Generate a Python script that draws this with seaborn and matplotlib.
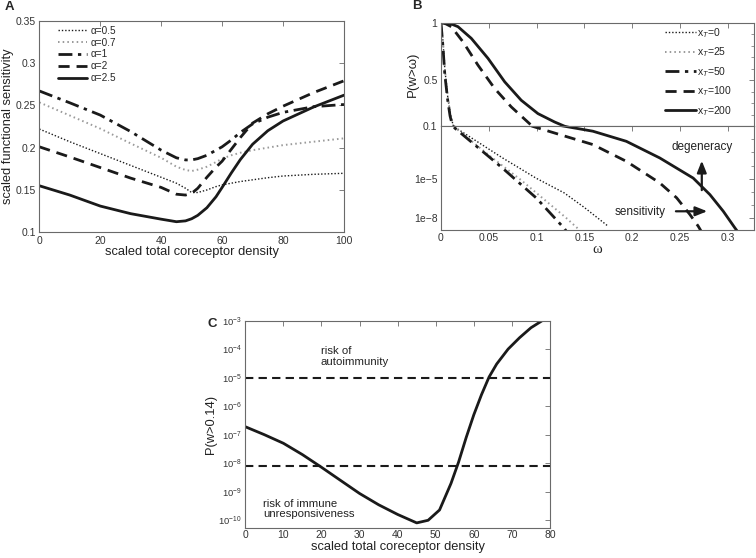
import numpy as np
import pandas as pd
import matplotlib
matplotlib.use("Agg")
import matplotlib.pyplot as plt
import matplotlib.ticker as mticker
import seaborn as sns

sns.set_style("white")
plt.rcParams['font.family'] = ['Liberation Sans', 'DejaVu Sans']
plt.rcParams['mathtext.fontset'] = 'custom'
plt.rcParams['mathtext.rm'] = 'Liberation Sans'
plt.rcParams['mathtext.it'] = 'Liberation Sans:italic'

# ---- panel A: functional sensitivity vs coreceptor density
xa = [0, 10, 20, 30, 40, 45, 48, 50, 52, 55, 58, 60, 63, 66, 70, 75, 80, 90, 100]
sens_a05 = [0.222, 0.207, 0.193, 0.179, 0.165, 0.158, 0.152, 0.147, 0.147, 0.150, 0.154, 0.156,
            0.158, 0.160, 0.162, 0.1645, 0.1665, 0.1685, 0.1697]
sens_a07 = [0.2535, 0.238, 0.2225, 0.205, 0.188, 0.1775, 0.1736, 0.1724, 0.174, 0.1775, 0.183, 0.187,
            0.191, 0.194, 0.197, 0.200, 0.203, 0.207, 0.211]
sens_a1 = [0.267, 0.253, 0.2385, 0.219, 0.197, 0.188, 0.1855, 0.1855, 0.187, 0.191, 0.197, 0.201,
           0.209, 0.218, 0.228, 0.236, 0.2417, 0.2484, 0.251]
sens_a2 = [0.201, 0.189, 0.1765, 0.164, 0.153, 0.145, 0.144, 0.146, 0.152, 0.165, 0.177, 0.184,
           0.198, 0.212, 0.229, 0.240, 0.249, 0.265, 0.279]
sens_a25 = [0.155, 0.144, 0.131, 0.122, 0.1155, 0.1125, 0.1135, 0.116, 0.120, 0.129, 0.142, 0.153,
            0.170, 0.186, 0.204, 0.220, 0.2315, 0.248, 0.262]
alpha_labels = ['α=0.5', 'α=0.7', 'α=1', 'α=2', 'α=2.5']

# ---- panel B: tail distribution P(w > omega)
om_x0 = [0, 0.002, 0.004, 0.007, 0.01, 0.013, 0.0645, 0.0994, 0.129, 0.15, 0.175]
p_x0 = [1.0, 0.85, 0.6, 0.36, 0.2, 0.1, 3.8e-4, 1.1e-5, 8.1e-7, 6.3e-8, 2.3e-9]
om_x25 = [0, 0.002, 0.004, 0.007, 0.01, 0.013, 0.05, 0.0837, 0.131, 0.143, 0.146]
p_x25 = [1.0, 0.85, 0.6, 0.36, 0.2, 0.1, 6.3e-4, 7.9e-6, 1e-8, 1.6e-9, 8e-10]
om_x50 = [0, 0.002, 0.004, 0.007, 0.0095, 0.0122, 0.04, 0.0645, 0.1, 0.129, 0.132]
p_x50 = [1.0, 0.8, 0.55, 0.33, 0.19, 0.1, 2e-3, 6.3e-5, 3.2e-7, 1.6e-9, 8e-10]
om_x100 = [0, 0.005, 0.0108, 0.023, 0.0387, 0.0562, 0.0736, 0.0945, 0.0957, 0.1245, 0.159,
           0.194, 0.229, 0.2467, 0.2606, 0.2693, 0.273]
p_x100 = [1.0, 0.99, 0.965, 0.834, 0.631, 0.428, 0.268, 0.109, 0.1, 0.023, 4e-3,
          2.1e-4, 4.7e-6, 3.4e-7, 1.8e-8, 2.3e-9, 8e-10]
om_x200 = [0, 0.0073, 0.0178, 0.0317, 0.0492, 0.0667, 0.084, 0.1015, 0.119, 0.1295, 0.159,
           0.194, 0.229, 0.264, 0.2815, 0.2955, 0.3077, 0.311]
p_x200 = [1.0, 1.0, 0.965, 0.864, 0.69, 0.486, 0.326, 0.21, 0.137, 0.1, 4.2e-2,
          7.1e-3, 3.8e-4, 1.1e-5, 6e-7, 3.2e-8, 1.7e-9, 8e-10]
xt_labels = ['x$_T$=0', 'x$_T$=25', 'x$_T$=50', 'x$_T$=100', 'x$_T$=200']

# ---- panel C: P(w > 0.14) vs coreceptor density
xc = [0, 5, 10, 15, 20, 25, 30, 35, 40, 45, 48, 51, 54, 56, 58, 60, 62, 64, 66, 69, 72, 75, 78]
p_014 = [1.9e-7, 1e-7, 5e-8, 2e-8, 7.2e-9, 2.5e-9, 8.7e-10, 3.5e-10, 1.6e-10, 8.1e-11, 1.0e-10,
         2.3e-10, 1.95e-9, 1.1e-8, 8e-8, 5e-7, 2.5e-6, 1.05e-5, 3e-5, 1e-4, 2.5e-4, 5.6e-4, 1e-3]
thresholds = [1e-5, 8e-9]

DARK = '#1a1a1a'
GRAY = '#9a9a9a'
styles = [
    dict(color=DARK, lw=1.0, linestyle=(0, (1, 1.4))),
    dict(color=GRAY, lw=1.4, linestyle=(0, (0.8, 1.6))),
    dict(color=DARK, lw=2.0, linestyle=(0, (5, 2, 1.2, 2))),
    dict(color=DARK, lw=2.0, linestyle=(0, (4, 2.5))),
    dict(color=DARK, lw=2.0, linestyle='-'),
]


def style_ax(ax):
    for s in ax.spines.values():
        s.set_color('#6a6a6a')
        s.set_linewidth(0.8)
    ax.tick_params(which='both', direction='in', top=True, right=True,
                   color='#6a6a6a', labelcolor='#333333', labelsize=7.5, pad=2.5)
    ax.tick_params(which='major', length=3.5, width=0.6)
    ax.tick_params(which='minor', length=2, width=0.5)


fig = plt.figure(figsize=(7.56, 5.58), dpi=100)

# ================= A
axA = fig.add_axes([0.052, 0.5837, 0.403, 0.3792])
for yv, lab, st in zip([sens_a05, sens_a07, sens_a1, sens_a2, sens_a25], alpha_labels, styles):
    sns.lineplot(x=xa, y=yv, ax=axA, label=lab, **st)
axA.set_xlim(0, 100)
axA.set_ylim(0.1, 0.35)
axA.set_xticks([0, 20, 40, 60, 80, 100])
axA.set_yticks([0.1, 0.15, 0.2, 0.25, 0.3, 0.35])
axA.yaxis.set_major_formatter(mticker.FormatStrFormatter('%g'))
style_ax(axA)
axA.set_xlabel('scaled total coreceptor density', fontsize=9.3, color='#222', labelpad=0)
axA.set_ylabel('scaled functional sensitivity', fontsize=9.3, color='#222', labelpad=1)
axA.legend(loc='upper left', bbox_to_anchor=(0.055, 0.985), frameon=False, fontsize=7.2,
           handlelength=2.9, handletextpad=0.4, labelspacing=0.18, borderaxespad=0, borderpad=0.2)
fig.text(5 / 756, 1 - 7 / 558, 'A', fontsize=9.5, weight='bold', va='center', ha='left')

# ================= B
axBt = fig.add_axes([0.5833, 0.7737, 0.414, 0.1857])
axBb = fig.add_axes([0.5833, 0.5884, 0.414, 0.1853], sharex=axBt)
curves_b = [(om_x0, p_x0), (om_x25, p_x25), (om_x50, p_x50), (om_x100, p_x100), (om_x200, p_x200)]
for (om, pv), lab, st in zip(curves_b, xt_labels, styles):
    sns.lineplot(x=om, y=pv, ax=axBt, label=lab, **st)
    sns.lineplot(x=om, y=pv, ax=axBb, **st)
axBt.set_ylim(0.1, 1.0)
axBb.set_yscale('log')
axBb.set_ylim(1.26e-9, 0.1)
axBb.set_xlim(0, 0.3276)
axBt.set_yticks([0.1, 0.5, 1.0])
axBt.set_yticklabels(['0.1', '0.5', '1'])
axBt.yaxis.set_minor_locator(mticker.MultipleLocator(0.1))
axBb.yaxis.set_major_locator(mticker.FixedLocator([1e-8, 1e-5]))
axBb.yaxis.set_major_formatter(mticker.FixedFormatter(['1e\u22128', '1e\u22125']))
axBb.yaxis.set_minor_locator(mticker.FixedLocator([1e-9, 1e-7, 1e-6, 1e-4, 1e-3, 1e-2]))
axBb.yaxis.set_minor_formatter(mticker.NullFormatter())
axBb.set_xticks([0, 0.05, 0.1, 0.15, 0.2, 0.25, 0.3])
axBb.xaxis.set_major_formatter(mticker.FormatStrFormatter('%g'))
style_ax(axBt)
style_ax(axBb)
axBt.tick_params(labelbottom=False)
axBt.set_ylabel('P(w>ω)', fontsize=9.5, color='#222', labelpad=3)
axBb.set_xlabel('ω', fontsize=10.5, family='Liberation Serif', color='#222', labelpad=0)
axBt.legend(loc='upper right', bbox_to_anchor=(0.93, 0.97), frameon=False, fontsize=7.5,
            handlelength=3.0, handletextpad=0.1, labelspacing=0.55, borderaxespad=0, borderpad=0)
axBb.annotate('', xy=(0.273, 3.8e-4), xytext=(0.273, 8.1e-7),
              arrowprops=dict(arrowstyle='-|>,head_length=0.7,head_width=0.28', color=DARK, lw=1.6))
axBb.text(0.273, 2.5e-3, 'degeneracy', fontsize=8.5, color='#222', ha='center', va='center')
axBb.annotate('', xy=(0.2816, 3.2e-8), xytext=(0.243, 3.2e-8),
              arrowprops=dict(arrowstyle='-|>,head_length=0.7,head_width=0.28', color=DARK, lw=1.6))
axBb.text(0.208, 2.75e-8, 'sensitivity', fontsize=8.5, color='#222', ha='center', va='center')
fig.text(412 / 756, 1 - 6 / 558, 'B', fontsize=9.5, weight='bold', va='center', ha='left')

# ================= C
axC = fig.add_axes([0.3245, 0.0535, 0.403, 0.372])
sns.lineplot(x=xc, y=p_014, ax=axC, color=DARK, lw=2.0)
for th in thresholds:
    axC.axhline(th, color=DARK, lw=1.5, linestyle=(0, (4, 2.5)))
axC.set_yscale('log')
axC.set_xlim(0, 80)
axC.set_ylim(5.3e-11, 1e-3)
axC.set_xticks([0, 10, 20, 30, 40, 50, 60, 70, 80])
axC.yaxis.set_major_locator(mticker.LogLocator(base=10, numticks=12))
axC.yaxis.set_minor_locator(mticker.NullLocator())
style_ax(axC)
axC.tick_params(axis='y', labelsize=6.8)
axC.tick_params(axis='x', pad=1.5)
axC.set_xlabel('scaled total coreceptor density', fontsize=9.3, color='#222', labelpad=0.5)
axC.set_ylabel('P(w>0.14)', fontsize=9.3, color='#222', labelpad=1)
axC.text(19.8, 5.5e-5, 'risk of\nautoimmunity', fontsize=8.2, color='#222', ha='left', va='center',
         linespacing=1.05)
axC.text(4.7, 2.4e-10, 'risk of immune\nunresponsiveness', fontsize=8.2, color='#222', ha='left',
         va='center', linespacing=1.0)
fig.text(207 / 756, 1 - 324 / 558, 'C', fontsize=9.5, weight='bold', va='center', ha='left')

fig.savefig('out.png', dpi=100)
